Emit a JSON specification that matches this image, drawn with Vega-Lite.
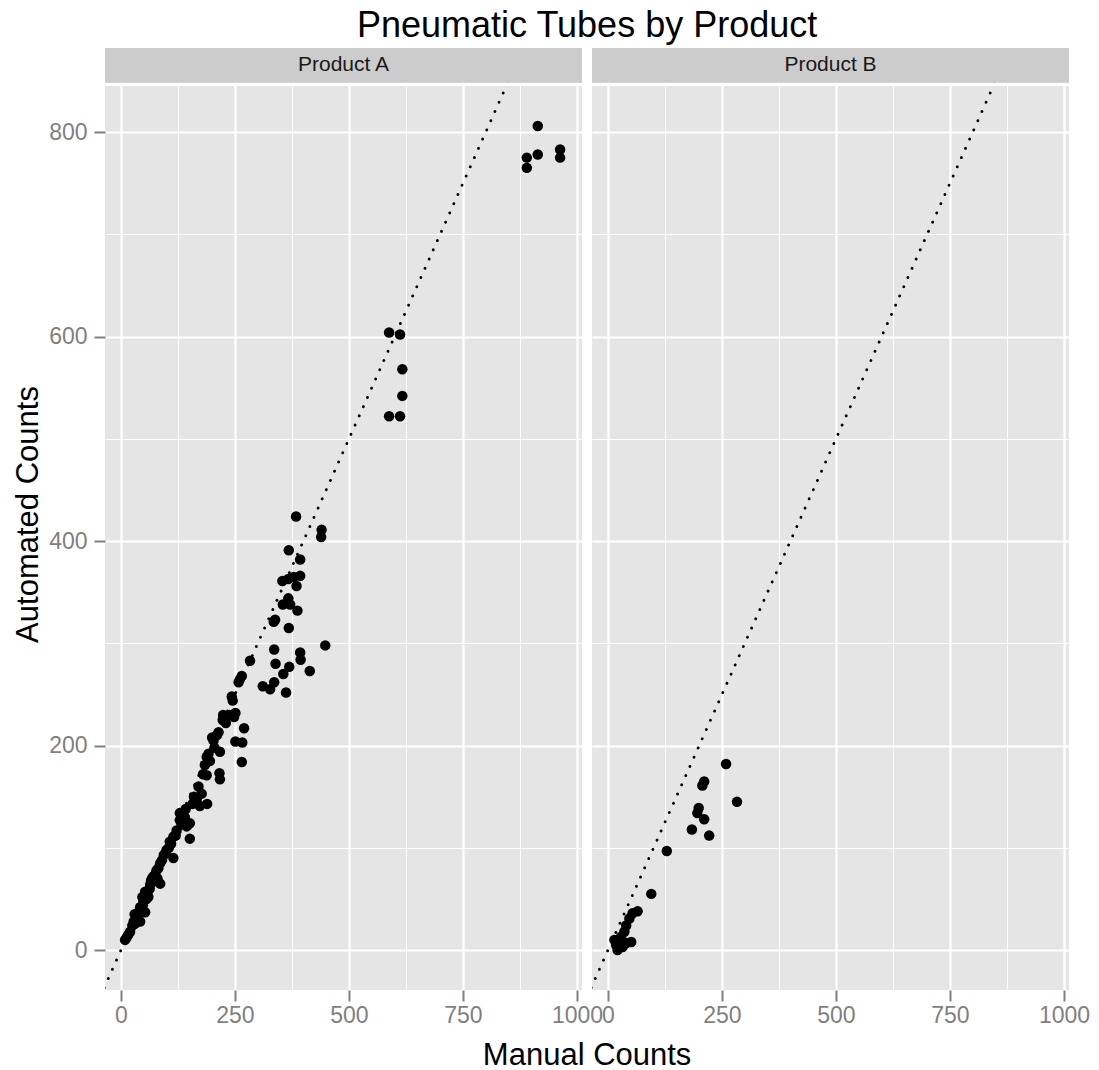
{
  "$schema": "https://vega.github.io/schema/vega-lite/v6.json",
  "background": "white",
  "padding": {"left": 12, "top": 8, "right": 5, "bottom": 0},
  "config": {
    "font": "Liberation Sans",
    "view": {"stroke": null},
    "title": {"fontWeight": "normal", "color": "#000000"},
    "axis": {
      "domain": false,
      "gridColor": "#FFFFFF",
      "gridOpacity": 1,
      "tickColor": "#7F7F7F",
      "tickSize": 11,
      "tickWidth": 2,
      "labelColor": "#7F7F7F",
      "labelFontSize": 23,
      "labelFont": "Liberation Sans",
      "labelOverlap": false,
      "labelFlush": false,
      "titleFont": "Liberation Sans",
      "titleFontWeight": "normal",
      "titleColor": "#000000",
      "titleFontSize": 31
    }
  },
  "datasets": {
    "diag": [
      {"manual": -100, "automated": -100},
      {"manual": 1200, "automated": 1200}
    ],
    "strips": [{"product": "Product A"}, {"product": "Product B"}],
    "pts": [
      {"product": "Product A", "manual": 914, "automated": 806},
      {"product": "Product A", "manual": 890, "automated": 775},
      {"product": "Product A", "manual": 914, "automated": 778},
      {"product": "Product A", "manual": 890, "automated": 765},
      {"product": "Product A", "manual": 963, "automated": 783},
      {"product": "Product A", "manual": 963, "automated": 775},
      {"product": "Product A", "manual": 588, "automated": 604},
      {"product": "Product A", "manual": 612, "automated": 602},
      {"product": "Product A", "manual": 617, "automated": 568},
      {"product": "Product A", "manual": 617, "automated": 542},
      {"product": "Product A", "manual": 588, "automated": 522},
      {"product": "Product A", "manual": 612, "automated": 522},
      {"product": "Product A", "manual": 384, "automated": 424},
      {"product": "Product A", "manual": 440, "automated": 411},
      {"product": "Product A", "manual": 439, "automated": 404},
      {"product": "Product A", "manual": 368, "automated": 391},
      {"product": "Product A", "manual": 393, "automated": 382},
      {"product": "Product A", "manual": 354, "automated": 361},
      {"product": "Product A", "manual": 367, "automated": 363},
      {"product": "Product A", "manual": 379, "automated": 365},
      {"product": "Product A", "manual": 393, "automated": 366},
      {"product": "Product A", "manual": 385, "automated": 356},
      {"product": "Product A", "manual": 367, "automated": 344},
      {"product": "Product A", "manual": 355, "automated": 338},
      {"product": "Product A", "manual": 371, "automated": 338},
      {"product": "Product A", "manual": 387, "automated": 332},
      {"product": "Product A", "manual": 338, "automated": 323},
      {"product": "Product A", "manual": 335, "automated": 321},
      {"product": "Product A", "manual": 368, "automated": 315},
      {"product": "Product A", "manual": 448, "automated": 298},
      {"product": "Product A", "manual": 336, "automated": 294},
      {"product": "Product A", "manual": 393, "automated": 291},
      {"product": "Product A", "manual": 394, "automated": 284},
      {"product": "Product A", "manual": 339, "automated": 280},
      {"product": "Product A", "manual": 369, "automated": 277},
      {"product": "Product A", "manual": 283, "automated": 283},
      {"product": "Product A", "manual": 414, "automated": 273},
      {"product": "Product A", "manual": 356, "automated": 270},
      {"product": "Product A", "manual": 336, "automated": 262},
      {"product": "Product A", "manual": 311, "automated": 258},
      {"product": "Product A", "manual": 327, "automated": 255},
      {"product": "Product A", "manual": 362, "automated": 252},
      {"product": "Product A", "manual": 261, "automated": 265},
      {"product": "Product A", "manual": 265, "automated": 268},
      {"product": "Product A", "manual": 243, "automated": 248},
      {"product": "Product A", "manual": 224, "automated": 230},
      {"product": "Product A", "manual": 223, "automated": 225},
      {"product": "Product A", "manual": 251, "automated": 232},
      {"product": "Product A", "manual": 248, "automated": 228},
      {"product": "Product A", "manual": 270, "automated": 217},
      {"product": "Product A", "manual": 210, "automated": 210},
      {"product": "Product A", "manual": 203, "automated": 205},
      {"product": "Product A", "manual": 217, "automated": 194},
      {"product": "Product A", "manual": 251, "automated": 204},
      {"product": "Product A", "manual": 266, "automated": 203},
      {"product": "Product A", "manual": 265, "automated": 184},
      {"product": "Product A", "manual": 188, "automated": 189},
      {"product": "Product A", "manual": 184, "automated": 181},
      {"product": "Product A", "manual": 192, "automated": 192},
      {"product": "Product A", "manual": 188, "automated": 171},
      {"product": "Product A", "manual": 216, "automated": 173},
      {"product": "Product A", "manual": 217, "automated": 167},
      {"product": "Product A", "manual": 177, "automated": 153},
      {"product": "Product A", "manual": 166, "automated": 147},
      {"product": "Product A", "manual": 189, "automated": 143},
      {"product": "Product A", "manual": 173, "automated": 141},
      {"product": "Product A", "manual": 129, "automated": 134},
      {"product": "Product A", "manual": 129, "automated": 127},
      {"product": "Product A", "manual": 151, "automated": 124},
      {"product": "Product A", "manual": 144, "automated": 121},
      {"product": "Product A", "manual": 122, "automated": 117},
      {"product": "Product A", "manual": 151, "automated": 109},
      {"product": "Product A", "manual": 115, "automated": 111},
      {"product": "Product A", "manual": 107, "automated": 106},
      {"product": "Product A", "manual": 100, "automated": 98},
      {"product": "Product A", "manual": 94, "automated": 93},
      {"product": "Product A", "manual": 115, "automated": 90},
      {"product": "Product A", "manual": 86, "automated": 85},
      {"product": "Product A", "manual": 78, "automated": 78},
      {"product": "Product A", "manual": 71, "automated": 72},
      {"product": "Product A", "manual": 86, "automated": 65},
      {"product": "Product A", "manual": 64, "automated": 64},
      {"product": "Product A", "manual": 53, "automated": 57},
      {"product": "Product A", "manual": 60, "automated": 52},
      {"product": "Product A", "manual": 49, "automated": 47},
      {"product": "Product A", "manual": 42, "automated": 42},
      {"product": "Product A", "manual": 53, "automated": 37},
      {"product": "Product A", "manual": 34, "automated": 33},
      {"product": "Product A", "manual": 42, "automated": 28},
      {"product": "Product A", "manual": 31, "automated": 26},
      {"product": "Product A", "manual": 16, "automated": 15},
      {"product": "Product A", "manual": 9, "automated": 10},
      {"product": "Product A", "manual": 160, "automated": 150},
      {"product": "Product A", "manual": 140, "automated": 130},
      {"product": "Product A", "manual": 120, "automated": 112},
      {"product": "Product A", "manual": 110, "automated": 104},
      {"product": "Product A", "manual": 98, "automated": 95},
      {"product": "Product A", "manual": 90, "automated": 88},
      {"product": "Product A", "manual": 82, "automated": 80},
      {"product": "Product A", "manual": 75, "automated": 74},
      {"product": "Product A", "manual": 68, "automated": 70},
      {"product": "Product A", "manual": 66, "automated": 68},
      {"product": "Product A", "manual": 58, "automated": 55},
      {"product": "Product A", "manual": 56, "automated": 50},
      {"product": "Product A", "manual": 48, "automated": 44},
      {"product": "Product A", "manual": 45, "automated": 40},
      {"product": "Product A", "manual": 38, "automated": 35},
      {"product": "Product A", "manual": 36, "automated": 30},
      {"product": "Product A", "manual": 28, "automated": 28},
      {"product": "Product A", "manual": 25, "automated": 24},
      {"product": "Product A", "manual": 20, "automated": 18},
      {"product": "Product A", "manual": 12, "automated": 12},
      {"product": "Product A", "manual": 105, "automated": 100},
      {"product": "Product A", "manual": 133, "automated": 123},
      {"product": "Product A", "manual": 142, "automated": 138},
      {"product": "Product A", "manual": 157, "automated": 143},
      {"product": "Product A", "manual": 170, "automated": 160},
      {"product": "Product A", "manual": 180, "automated": 172},
      {"product": "Product A", "manual": 195, "automated": 185},
      {"product": "Product A", "manual": 200, "automated": 208},
      {"product": "Product A", "manual": 205, "automated": 198},
      {"product": "Product A", "manual": 214, "automated": 213},
      {"product": "Product A", "manual": 230, "automated": 222},
      {"product": "Product A", "manual": 237, "automated": 230},
      {"product": "Product A", "manual": 245, "automated": 244},
      {"product": "Product A", "manual": 258, "automated": 262},
      {"product": "Product A", "manual": 70, "automated": 67},
      {"product": "Product A", "manual": 80, "automated": 70},
      {"product": "Product A", "manual": 63, "automated": 60},
      {"product": "Product A", "manual": 47, "automated": 52},
      {"product": "Product A", "manual": 40, "automated": 38},
      {"product": "Product A", "manual": 30, "automated": 35},
      {"product": "Product B", "manual": 207, "automated": 161},
      {"product": "Product B", "manual": 211, "automated": 165},
      {"product": "Product B", "manual": 199, "automated": 139},
      {"product": "Product B", "manual": 196, "automated": 134},
      {"product": "Product B", "manual": 211, "automated": 128},
      {"product": "Product B", "manual": 184, "automated": 118},
      {"product": "Product B", "manual": 222, "automated": 112},
      {"product": "Product B", "manual": 259, "automated": 182},
      {"product": "Product B", "manual": 283, "automated": 145},
      {"product": "Product B", "manual": 129, "automated": 97},
      {"product": "Product B", "manual": 95, "automated": 55},
      {"product": "Product B", "manual": 65, "automated": 38},
      {"product": "Product B", "manual": 54, "automated": 36},
      {"product": "Product B", "manual": 47, "automated": 31},
      {"product": "Product B", "manual": 40, "automated": 24},
      {"product": "Product B", "manual": 36, "automated": 18},
      {"product": "Product B", "manual": 29, "automated": 13},
      {"product": "Product B", "manual": 25, "automated": 8},
      {"product": "Product B", "manual": 18, "automated": 5},
      {"product": "Product B", "manual": 51, "automated": 8},
      {"product": "Product B", "manual": 32, "automated": 3},
      {"product": "Product B", "manual": 21, "automated": 0},
      {"product": "Product B", "manual": 40, "automated": 7},
      {"product": "Product B", "manual": 14, "automated": 10},
      {"product": "Product B", "manual": 22, "automated": 2},
      {"product": "Product B", "manual": 28, "automated": 6}
    ]
  },
  "title": {"text": "Pneumatic Tubes by Product", "fontSize": 36, "anchor": "middle", "frame": "bounds", "dx": 36, "offset": 3},
  "vconcat": [
    {
      "title": {"text": "Manual Counts", "orient": "bottom", "fontSize": 31, "anchor": "middle", "frame": "bounds", "dx": 36, "offset": 14},
      "spacing": 10,
      "bounds": "flush",
      "hconcat": [
        {
          "width": 477, "height": 942,
          "view": {"fill": "#E5E5E5", "stroke": null},
          "layer": [
            {
              "data": {"name": "pts"},
              "transform": [{"filter": "datum.product === 'Product A'"}],
              "mark": {"type": "circle", "size": 110, "opacity": 1, "color": "#000000"},
              "encoding": {
                "x": {"field": "manual", "type": "quantitative", "scale": {"domain": [-35, 1011], "nice": false, "zero": false},
                  "axis": {"title": null, "values": [0, 125, 250, 375, 500, 625, 750, 875, 1000],
                    "labelExpr": "datum.value % 250 === 0 ? '' + datum.value : ''",
                    "gridWidth": {"condition": {"test": "datum.value % 250 !== 0", "value": 1}, "value": 2.2},
                    "tickOpacity": {"condition": {"test": "datum.value % 250 !== 0", "value": 0}, "value": 1},
                    "labelPadding": 3}},
                "y": {"field": "automated", "type": "quantitative", "scale": {"domain": [-39, 882.2], "nice": false, "zero": false},
                  "axis": {"title": "Automated Counts", "values": [0, 100, 200, 300, 400, 500, 600, 700, 800],
                    "labelExpr": "datum.value % 200 === 0 ? '' + datum.value : ''",
                    "gridWidth": {"condition": {"test": "datum.value % 200 !== 0", "value": 1}, "value": 2.2},
                    "tickOpacity": {"condition": {"test": "datum.value % 200 !== 0", "value": 0}, "value": 1},
                    "labelPadding": 7, "titlePadding": 4, "titleY": 466}}
              }
            },
            {
              "data": {"name": "diag"},
              "mark": {"type": "line", "clip": true, "color": "#000000", "strokeWidth": 2.8, "strokeDash": [0.1, 10], "strokeCap": "round"},
              "encoding": {
                "x": {"field": "manual", "type": "quantitative"},
                "y": {"field": "automated", "type": "quantitative"}
              }
            },
            {
              "data": {"name": "strips"},
              "transform": [{"filter": "datum.product === 'Product A'"}],
              "mark": {"type": "rect", "color": "#FFFFFF"},
              "encoding": {"y": {"datum": 845}, "y2": {"datum": 848.1}}
            },
            {
              "data": {"name": "strips"},
              "transform": [{"filter": "datum.product === 'Product A'"}],
              "mark": {"type": "rect", "color": "#CCCCCC"},
              "encoding": {"y": {"datum": 848.1}, "y2": {"datum": 882.2}}
            },
            {
              "data": {"name": "strips"},
              "transform": [{"filter": "datum.product === 'Product A'"}],
              "mark": {"type": "text", "fontSize": 21, "color": "#1A1A1A", "font": "Liberation Sans", "baseline": "middle"},
              "encoding": {"y": {"datum": 865.2}, "text": {"field": "product"}}
            }
          ]
        },
        {
          "width": 477, "height": 942,
          "view": {"fill": "#E5E5E5", "stroke": null},
          "layer": [
            {
              "data": {"name": "pts"},
              "transform": [{"filter": "datum.product === 'Product B'"}],
              "mark": {"type": "circle", "size": 110, "opacity": 1, "color": "#000000"},
              "encoding": {
                "x": {"field": "manual", "type": "quantitative", "scale": {"domain": [-35, 1011], "nice": false, "zero": false},
                  "axis": {"title": null, "values": [0, 125, 250, 375, 500, 625, 750, 875, 1000],
                    "labelExpr": "datum.value % 250 === 0 ? '' + datum.value : ''",
                    "gridWidth": {"condition": {"test": "datum.value % 250 !== 0", "value": 1}, "value": 2.2},
                    "tickOpacity": {"condition": {"test": "datum.value % 250 !== 0", "value": 0}, "value": 1},
                    "labelPadding": 3}},
                "y": {"field": "automated", "type": "quantitative", "scale": {"domain": [-39, 882.2], "nice": false, "zero": false},
                  "axis": {"title": null, "values": [0, 100, 200, 300, 400, 500, 600, 700, 800],
                    "labels": false, "ticks": false,
                    "gridWidth": {"condition": {"test": "datum.value % 200 !== 0", "value": 1}, "value": 2.2}}}
              }
            },
            {
              "data": {"name": "diag"},
              "mark": {"type": "line", "clip": true, "color": "#000000", "strokeWidth": 2.8, "strokeDash": [0.1, 10], "strokeCap": "round"},
              "encoding": {
                "x": {"field": "manual", "type": "quantitative"},
                "y": {"field": "automated", "type": "quantitative"}
              }
            },
            {
              "data": {"name": "strips"},
              "transform": [{"filter": "datum.product === 'Product B'"}],
              "mark": {"type": "rect", "color": "#FFFFFF"},
              "encoding": {"y": {"datum": 845}, "y2": {"datum": 848.1}}
            },
            {
              "data": {"name": "strips"},
              "transform": [{"filter": "datum.product === 'Product B'"}],
              "mark": {"type": "rect", "color": "#CCCCCC"},
              "encoding": {"y": {"datum": 848.1}, "y2": {"datum": 882.2}}
            },
            {
              "data": {"name": "strips"},
              "transform": [{"filter": "datum.product === 'Product B'"}],
              "mark": {"type": "text", "fontSize": 21, "color": "#1A1A1A", "font": "Liberation Sans", "baseline": "middle"},
              "encoding": {"y": {"datum": 865.2}, "text": {"field": "product"}}
            }
          ]
        }
      ]
    }
  ]
}
